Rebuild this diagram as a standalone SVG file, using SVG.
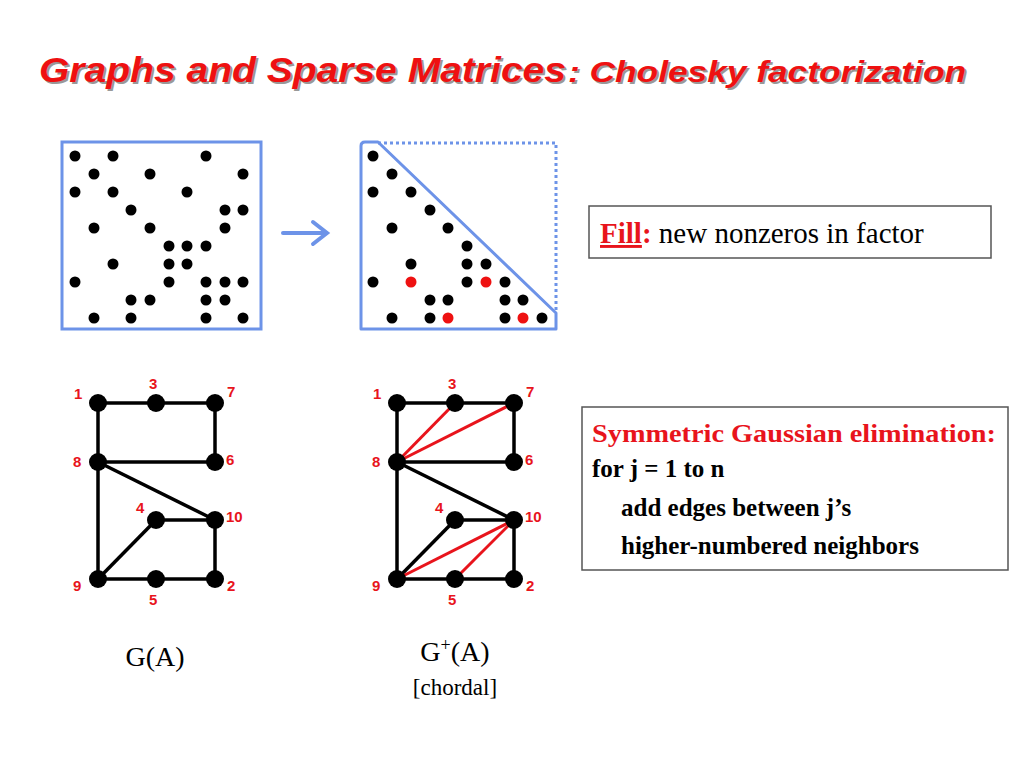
<svg xmlns="http://www.w3.org/2000/svg" width="1024" height="768" viewBox="0 0 1024 768">
<defs>
<style>
.d{fill:#000}.r{fill:#ee1111}
.e{stroke:#000;stroke-width:3.5}.f{stroke:#e8141c;stroke-width:3}
.n{fill:#000}
.lb{font-family:"Liberation Sans",Arial,sans-serif;font-weight:bold;font-size:15px;fill:#e8141c}
</style>
</defs>
<rect width="1024" height="768" fill="#fff"/>
<g id="title" font-family="Liberation Sans,Arial,sans-serif" font-weight="bold" font-style="italic">
<text x="41" y="84" font-size="35" fill="#999" textLength="527" lengthAdjust="spacingAndGlyphs">Graphs and Sparse Matrices</text>
<text x="39" y="82" font-size="35" fill="#ee1111" textLength="527" lengthAdjust="spacingAndGlyphs">Graphs and Sparse Matrices</text>
<text x="570" y="84" font-size="29" fill="#999" textLength="398" lengthAdjust="spacingAndGlyphs">:  Cholesky factorization</text>
<text x="568" y="82" font-size="29" fill="#ee1111" textLength="398" lengthAdjust="spacingAndGlyphs">:  Cholesky factorization</text>
</g>
<g id="matrixA">
<rect x="62" y="142" width="199" height="187" fill="none" stroke="#6d93e8" stroke-width="3"/>
<g class="d">
<circle cx="75" cy="156" r="5.5"/><circle cx="113" cy="156" r="5.5"/><circle cx="206" cy="156" r="5.5"/>
<circle cx="94" cy="174" r="5.5"/><circle cx="150" cy="174" r="5.5"/><circle cx="243" cy="174" r="5.5"/>
<circle cx="75" cy="192" r="5.5"/><circle cx="113" cy="192" r="5.5"/><circle cx="187" cy="192" r="5.5"/>
<circle cx="131" cy="210" r="5.5"/><circle cx="225" cy="210" r="5.5"/><circle cx="243" cy="210" r="5.5"/>
<circle cx="94" cy="228" r="5.5"/><circle cx="150" cy="228" r="5.5"/><circle cx="225" cy="228" r="5.5"/>
<circle cx="169" cy="246" r="5.5"/><circle cx="187" cy="246" r="5.5"/><circle cx="206" cy="246" r="5.5"/>
<circle cx="113" cy="264" r="5.5"/><circle cx="169" cy="264" r="5.5"/><circle cx="187" cy="264" r="5.5"/>
<circle cx="75" cy="282" r="5.5"/><circle cx="169" cy="282" r="5.5"/><circle cx="206" cy="282" r="5.5"/><circle cx="225" cy="282" r="5.5"/><circle cx="243" cy="282" r="5.5"/>
<circle cx="131" cy="300" r="5.5"/><circle cx="150" cy="300" r="5.5"/><circle cx="206" cy="300" r="5.5"/><circle cx="225" cy="300" r="5.5"/>
<circle cx="94" cy="318" r="5.5"/><circle cx="131" cy="318" r="5.5"/><circle cx="206" cy="318" r="5.5"/><circle cx="243" cy="318" r="5.5"/>
</g>
</g>
<g id="arrow" stroke="#6d93e8" stroke-width="4" fill="none" stroke-linecap="round">
<line x1="283" y1="233" x2="325" y2="233"/><polyline points="313,222 327,233 313,244"/>
</g>
<g id="matrixL">
<polyline points="378,143 556,143 556,313" fill="none" stroke="#6d93e8" stroke-width="3" stroke-dasharray="3,3"/>
<path d="M378,142 L556,313 L556,329 L361,329 L361,146 Q361,142 365,142 Z" fill="none" stroke="#6d93e8" stroke-width="3" stroke-linejoin="round"/>
<g class="d">
<circle cx="373" cy="156" r="5.5"/>
<circle cx="392" cy="174" r="5.5"/>
<circle cx="373" cy="192" r="5.5"/><circle cx="411" cy="192" r="5.5"/>
<circle cx="430" cy="210" r="5.5"/>
<circle cx="392" cy="228" r="5.5"/><circle cx="448" cy="228" r="5.5"/>
<circle cx="467" cy="246" r="5.5"/>
<circle cx="411" cy="264" r="5.5"/><circle cx="467" cy="264" r="5.5"/><circle cx="486" cy="264" r="5.5"/>
<circle cx="373" cy="282" r="5.5"/><circle cx="467" cy="282" r="5.5"/><circle cx="505" cy="282" r="5.5"/>
<circle cx="430" cy="300" r="5.5"/><circle cx="448" cy="300" r="5.5"/><circle cx="505" cy="300" r="5.5"/><circle cx="523" cy="300" r="5.5"/>
<circle cx="392" cy="318" r="5.5"/><circle cx="430" cy="318" r="5.5"/><circle cx="505" cy="318" r="5.5"/><circle cx="542" cy="318" r="5.5"/>
</g>
<g class="r">
<circle cx="411" cy="282" r="5.5"/><circle cx="486" cy="282" r="5.5"/><circle cx="448" cy="318" r="5.5"/><circle cx="523" cy="318" r="5.5"/>
</g>
</g>
<g id="fillbox">
<rect x="589" y="206" width="402" height="52" fill="#fff" stroke="#555" stroke-width="1.5"/>
<text x="600" y="243" font-family="Liberation Serif,Times New Roman,serif" font-size="29"><tspan fill="#e8141c" font-weight="bold" text-decoration="underline">Fill</tspan><tspan fill="#e8141c" font-weight="bold">:</tspan> new nonzeros in factor</text>
</g>
<g id="connectors">
<g class="e">
<line x1="98" y1="403" x2="215" y2="403"/><line x1="98" y1="403" x2="98" y2="579"/><line x1="215" y1="403" x2="215" y2="462"/>
<line x1="98" y1="462" x2="215" y2="462"/><line x1="98" y1="462" x2="215" y2="520"/><line x1="156" y1="520" x2="215" y2="520"/>
<line x1="156" y1="520" x2="98" y2="579"/><line x1="215" y1="520" x2="215" y2="579"/><line x1="98" y1="579" x2="215" y2="579"/>
<line x1="397" y1="403" x2="514" y2="403"/><line x1="397" y1="403" x2="397" y2="579"/><line x1="514" y1="403" x2="514" y2="462"/>
<line x1="397" y1="462" x2="514" y2="462"/><line x1="397" y1="462" x2="514" y2="520"/><line x1="455" y1="520" x2="514" y2="520"/>
<line x1="455" y1="520" x2="397" y2="579"/><line x1="514" y1="520" x2="514" y2="579"/><line x1="397" y1="579" x2="514" y2="579"/>
</g>
<g class="f">
<line x1="397" y1="462" x2="455" y2="403"/><line x1="397" y1="462" x2="514" y2="403"/>
<line x1="397" y1="579" x2="514" y2="520"/><line x1="455" y1="579" x2="514" y2="520"/>
</g>
</g>
<g id="graphA">
<g class="n">
<circle cx="98" cy="403" r="9"/><circle cx="156" cy="403" r="9"/><circle cx="215" cy="403" r="9"/>
<circle cx="98" cy="462" r="9"/><circle cx="215" cy="462" r="9"/><circle cx="156" cy="520" r="9"/><circle cx="215" cy="520" r="9"/>
<circle cx="98" cy="579" r="9"/><circle cx="156" cy="579" r="9"/><circle cx="215" cy="579" r="9"/>
</g>
<g class="lb">
<text x="74" y="399">1</text><text x="149" y="389">3</text><text x="227" y="397">7</text>
<text x="73" y="467">8</text><text x="226" y="465">6</text><text x="136" y="513">4</text><text x="226" y="522">10</text>
<text x="73" y="591">9</text><text x="149" y="605">5</text><text x="227" y="591">2</text>
</g>
<text x="155" y="666" font-family="Liberation Serif,Times New Roman,serif" font-size="28" text-anchor="middle">G(A)</text>
</g>
<g id="graphF">
<g class="n">
<circle cx="397" cy="403" r="9"/><circle cx="455" cy="403" r="9"/><circle cx="514" cy="403" r="9"/>
<circle cx="397" cy="462" r="9"/><circle cx="514" cy="462" r="9"/><circle cx="455" cy="520" r="9"/><circle cx="514" cy="520" r="9"/>
<circle cx="397" cy="579" r="9"/><circle cx="455" cy="579" r="9"/><circle cx="514" cy="579" r="9"/>
</g>
<g class="lb">
<text x="373" y="399">1</text><text x="448" y="389">3</text><text x="526" y="397">7</text>
<text x="372" y="467">8</text><text x="525" y="465">6</text><text x="435" y="513">4</text><text x="525" y="522">10</text>
<text x="372" y="591">9</text><text x="448" y="605">5</text><text x="526" y="591">2</text>
</g>
<text x="455" y="661" font-family="Liberation Serif,Times New Roman,serif" font-size="28" text-anchor="middle">G<tspan font-size="18" dy="-10">+</tspan><tspan dy="10">(A)</tspan></text>
<text x="455" y="695" font-family="Liberation Serif,Times New Roman,serif" font-size="23" text-anchor="middle">[chordal]</text>
</g>
<g id="algbox">
<rect x="582" y="407" width="426" height="163" fill="#fff" stroke="#555" stroke-width="1.5"/>
<g font-family="Liberation Serif,Times New Roman,serif" font-weight="bold" font-size="25">
<text x="592" y="442" fill="#e8141c" textLength="404" lengthAdjust="spacingAndGlyphs">Symmetric Gaussian elimination:</text>
<text x="592" y="477">for j = 1 to n</text>
<text x="621" y="516">add edges between j’s</text>
<text x="621" y="554">higher-numbered neighbors</text>
</g>
</g>
</svg>
